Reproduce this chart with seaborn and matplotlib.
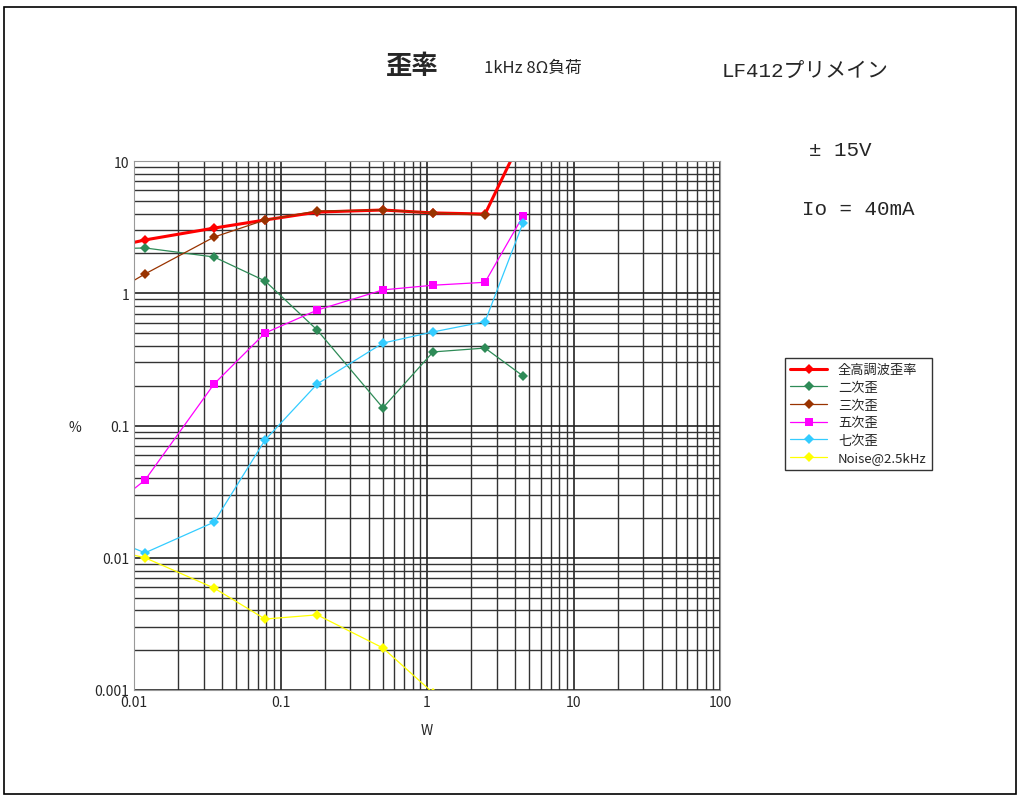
import numpy as np
import pandas as pd
import seaborn as sns
import matplotlib.pyplot as plt
from matplotlib.patches import Rectangle

# 出力 W (左右の範囲外の点は線を軸端まで伸ばすため)
x_main = [0.0119, 0.0352, 0.0784, 0.178, 0.50, 1.10, 2.49, 4.52]

thd_x = [0.005] + x_main[:7] + [6.0]
thd_y = [2.05, 2.53, 3.11, 3.58, 4.11, 4.26, 4.05, 3.97, 30.0]
h2_x = [0.005] + x_main
h2_y = [2.15, 2.20, 1.88, 1.24, 0.527, 0.136, 0.36, 0.385, 0.237]
h3_x = [0.005] + x_main[:7]
h3_y = [0.80, 1.40, 2.66, 3.58, 4.19, 4.26, 4.05, 3.90]
h5_x = [0.005] + x_main
h5_y = [0.018, 0.0387, 0.206, 0.50, 0.746, 1.06, 1.15, 1.21, 3.83]
h7_x = [0.005] + x_main
h7_y = [0.016, 0.0109, 0.0186, 0.0776, 0.206, 0.42, 0.51, 0.61, 3.4]
noise_x = [0.005] + x_main[:6]
noise_y = [0.0125, 0.0100, 0.0059, 0.00344, 0.0037, 0.00208, 0.00095]

series = [
    ('全高調波歪率', thd_x, thd_y, '#ff0000', 'D', 2.2, 5),
    ('二次歪', h2_x, h2_y, '#2e8b57', 'D', 0.9, 5),
    ('三次歪', h3_x, h3_y, '#993300', 'D', 0.9, 5),
    ('五次歪', h5_x, h5_y, '#ff00ff', 's', 0.9, 6),
    ('七次歪', h7_x, h7_y, '#33ccff', 'D', 0.9, 5),
    ('Noise@2.5kHz', noise_x, noise_y, '#ffff00', 'D', 0.9, 5),
]

sns.set_style('white')
plt.rcParams['font.family'] = ['Noto Sans CJK JP', 'DejaVu Sans']

fig = plt.figure(figsize=(10.24, 8.03), dpi=100)
ax = fig.add_axes([134 / 1024, 1 - 691 / 803, (720 - 134) / 1024, (691 - 162) / 803])

for name, xs, ys, col, mk, lw, ms in series:
    df = pd.DataFrame({'x': xs, 'y': ys})
    sns.lineplot(data=df, x='x', y='y', ax=ax, color=col, marker=mk, lw=lw,
                 markersize=ms, markeredgewidth=0, label=name, sort=False)

ax.set_xscale('log')
ax.set_yscale('log')
ax.set_xlim(0.01, 100)
ax.set_ylim(0.001, 10)
ax.grid(True, which='major', color='#222222', lw=1.2)
ax.grid(True, which='minor', color='#333333', lw=1.0)
ax.set_axisbelow(True)
for s in ax.spines.values():
    s.set_color('#999999')
ax.tick_params(which='both', length=0, labelsize=10)
ax.set_xticks([0.01, 0.1, 1, 10, 100])
ax.set_xticklabels(['0.01', '0.1', '1', '10', '100'])
ax.set_yticks([0.001, 0.01, 0.1, 1, 10])
ax.set_yticklabels(['0.001', '0.01', '0.1', '1', '10'])
ax.set_xlabel('W', fontsize=10, labelpad=10)
ax.set_ylabel('')

leg = ax.legend(loc='upper left', bbox_to_anchor=(1.1, 0.64), frameon=True,
                fancybox=False, edgecolor='black', fontsize=9.5,
                handlelength=2.8, borderpad=0.4, labelspacing=0.35)
leg.get_frame().set_linewidth(1.0)

fig.text(75 / 1024, 1 - 428 / 803, '%', fontsize=10, ha='center', va='center')
fig.text(412 / 1024, 1 - 66 / 803, '歪率', fontsize=19, ha='center', va='center', weight='bold')
fig.text(533 / 1024, 1 - 68 / 803, '1kHz 8Ω負荷', fontsize=12, ha='center', va='center')
mono = ['Liberation Mono', 'Noto Sans CJK JP']
fig.text(805 / 1024, 1 - 71 / 803, 'LF412プリメイン', fontsize=15, ha='center',
         va='center', family=mono)
fig.text(840 / 1024, 1 - 150 / 803, '± 15V', fontsize=15, ha='center', va='center', family=mono)
fig.text(858 / 1024, 1 - 210 / 803, 'Io = 40mA', fontsize=15, ha='center', va='center', family=mono)

fig.patches.append(Rectangle((4 / 1024, 8 / 803), 1012 / 1024, 787 / 803,
                             transform=fig.transFigure, fill=False, ec='black', lw=1.2))

fig.savefig('out.png', dpi=100)
